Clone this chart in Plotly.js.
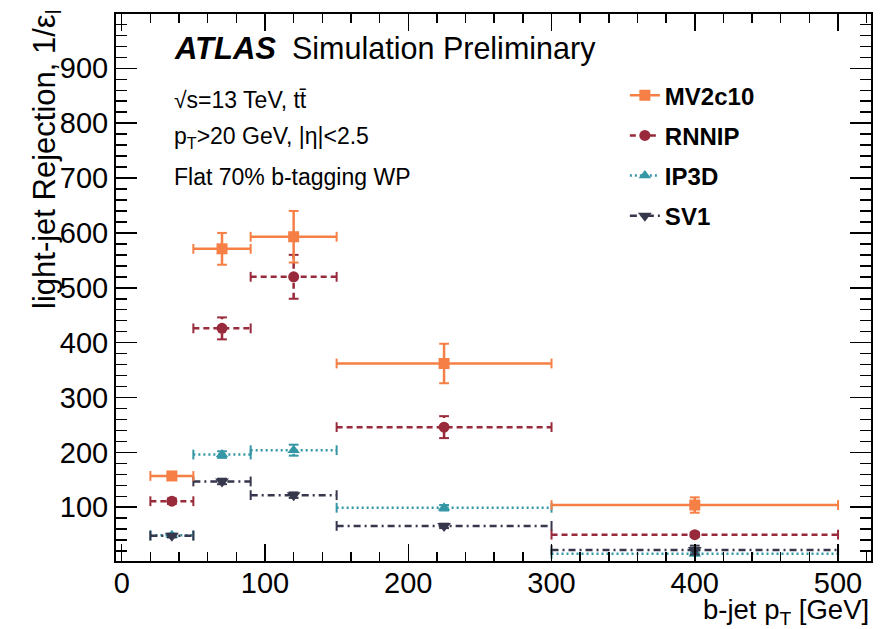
<!DOCTYPE html>
<html>
<head>
<meta charset="utf-8">
<script src="https://cdn.plot.ly/plotly-3.0.1.min.js"></script>
<style>html,body{margin:0;padding:0;background:#fff;}#chart{width:891px;height:629px;}</style>
</head>
<body>
<div id="chart"></div>
<script>
// ---- data ----
var binLo   = [20, 50, 90, 150, 300];
var binHi   = [50, 90, 150, 300, 500];
var centers = [35, 70, 120, 225, 400];

var seriesNames = ["MV2c10", "RNNIP", "IP3D", "SV1"];
var mv2c10    = [157, 571, 593, 362, 104];
var mv2c10Err = [6, 29, 47, 36, 14];
var rnnip     = [111, 426, 520, 246, 50];
var rnnipErr  = [5, 20, 40, 20, 4];
var ip3d      = [49, 196, 204, 99, 15];
var ip3dErr   = [3, 6, 10, 5, 3];
var sv1       = [48, 147, 122, 66, 22];
var sv1Err    = [3, 5, 5, 4, 8];

var xTickVals = [0, 100, 200, 300, 400, 500];
var yTickVals = [100, 200, 300, 400, 500, 600, 700, 800, 900];

// ---- styles ----
var styles = {
  "MV2c10": {color: "#f57f45", dash: "solid", symbol: "square", size: 11},
  "RNNIP":  {color: "#982a3b", dash: "6px,4px", symbol: "circle", size: 11},
  "IP3D":   {color: "#3597a6", dash: "2px,3px", symbol: "triangle-up", size: 11},
  "SV1":    {color: "#36364d", dash: "7px,4px,2px,4px", symbol: "triangle-down", size: 12}
};
var FONT = "Liberation Sans, Arial, Helvetica, sans-serif";

function hSeg(vals) {
  var x = [], y = [];
  for (var i = 0; i < vals.length; i++) { x.push(binLo[i], binHi[i], null); y.push(vals[i], vals[i], null); }
  return {x: x, y: y};
}
function vSeg(vals, errs) {
  var x = [], y = [];
  for (var i = 0; i < vals.length; i++) { x.push(centers[i], centers[i], null); y.push(vals[i] - errs[i], vals[i] + errs[i], null); }
  return {x: x, y: y};
}
function seriesTraces(name, vals, errs) {
  var s = styles[name];
  var h = hSeg(vals), v = vSeg(vals, errs);
  return [
    {type: "scatter", mode: "lines+markers", x: h.x, y: h.y, showlegend: false, hoverinfo: "skip",
     line: {color: s.color, width: 2.5, dash: s.dash},
     marker: {symbol: "line-ns", size: 7, color: s.color, line: {color: s.color, width: 2}}},
    {type: "scatter", mode: "lines+markers", x: v.x, y: v.y, showlegend: false, hoverinfo: "skip",
     line: {color: s.color, width: 2.5, dash: s.dash},
     marker: {symbol: "line-ew", size: 7, color: s.color, line: {color: s.color, width: 2}}},
    {type: "scatter", mode: "markers", x: centers, y: vals, name: name, showlegend: false,
     marker: {symbol: s.symbol, size: s.size, color: s.color}}
  ];
}
function legendTrace(name) {
  var s = styles[name];
  return {type: "scatter", mode: "lines+markers", x: [null], y: [null], name: "<b>" + name + "</b>",
          legendgroup: name, showlegend: true,
          line: {color: s.color, width: 2.5, dash: s.dash},
          marker: {symbol: s.symbol, size: s.size, color: s.color}};
}

var data = []
  .concat(seriesTraces("IP3D", ip3d, ip3dErr))
  .concat(seriesTraces("SV1", sv1, sv1Err))
  .concat(seriesTraces("RNNIP", rnnip, rnnipErr))
  .concat(seriesTraces("MV2c10", mv2c10, mv2c10Err))
  .concat(seriesNames.map(legendTrace));

var axisCommon = {
  showline: true, linecolor: "#000", linewidth: 2, mirror: "allticks",
  ticks: "inside", tickcolor: "#000", tickwidth: 1.5,
  showgrid: false, zeroline: false,
  tickfont: {family: FONT, size: 29, color: "#000"}
};

var layout = {
  width: 891, height: 629,
  margin: {l: 116, r: 20, t: 14, b: 68},
  paper_bgcolor: "#fff", plot_bgcolor: "#fff",
  font: {family: FONT, color: "#000"},
  xaxis: Object.assign({}, axisCommon, {
    range: [-4, 523], tickvals: xTickVals, ticklen: 17, ticklabelstandoff: -5,
    minor: {dtick: 20, ticks: "inside", ticklen: 9, tickcolor: "#000", tickwidth: 1.5, showgrid: false}
  }),
  yaxis: Object.assign({}, axisCommon, {
    range: [2, 999], tickvals: yTickVals, ticklen: 21,
    minor: {dtick: 20, ticks: "inside", ticklen: 11, tickcolor: "#000", tickwidth: 1.5, showgrid: false}
  }),
  showlegend: true,
  legend: {x: 0.674, y: 0.892, xanchor: "left", yanchor: "top", bgcolor: "rgba(0,0,0,0)",
           font: {family: FONT, size: 24, color: "#000"}, traceorder: "grouped", tracegroupgap: 6},
  annotations: [
    {xref: "paper", yref: "paper", x: 0.0742, y: 0.9365, xanchor: "left", yanchor: "middle", showarrow: false,
     text: "<b><i>ATLAS</i></b>", font: {family: FONT, size: 31}},
    {xref: "paper", yref: "paper", x: 0.2305, y: 0.9365, xanchor: "left", yanchor: "middle", showarrow: false,
     text: "Simulation Preliminary", font: {family: FONT, size: 30.5}},
    {xref: "paper", yref: "paper", x: 0.0742, y: 0.843, xanchor: "left", yanchor: "middle", showarrow: false,
     text: "√s=13 TeV, tt\u0304", font: {family: FONT, size: 23}},
    {xref: "paper", yref: "paper", x: 0.0742, y: 0.7736, xanchor: "left", yanchor: "middle", showarrow: false,
     text: "p<sub>T</sub>&gt;20 GeV, |η|&lt;2.5", font: {family: FONT, size: 23}},
    {xref: "paper", yref: "paper", x: 0.0742, y: 0.702, xanchor: "left", yanchor: "middle", showarrow: false,
     text: "Flat 70% b-tagging WP", font: {family: FONT, size: 23}},
    {xref: "paper", yref: "paper", x: 1, y: -0.093, xanchor: "right", yanchor: "middle", showarrow: false,
     text: "b-jet p<sub>T</sub> [GeV]", font: {family: FONT, size: 27.5}},
    {xref: "paper", yref: "paper", x: -0.0914, y: 1, xanchor: "center", yanchor: "top", yshift: 7, showarrow: false,
     textangle: -90, text: "light-jet Rejection, 1/ε<sub>l</sub>", font: {family: FONT, size: 31}}
  ]
};

Plotly.newPlot("chart", data, layout, {displayModeBar: false, staticPlot: true});
</script>
</body>
</html>
